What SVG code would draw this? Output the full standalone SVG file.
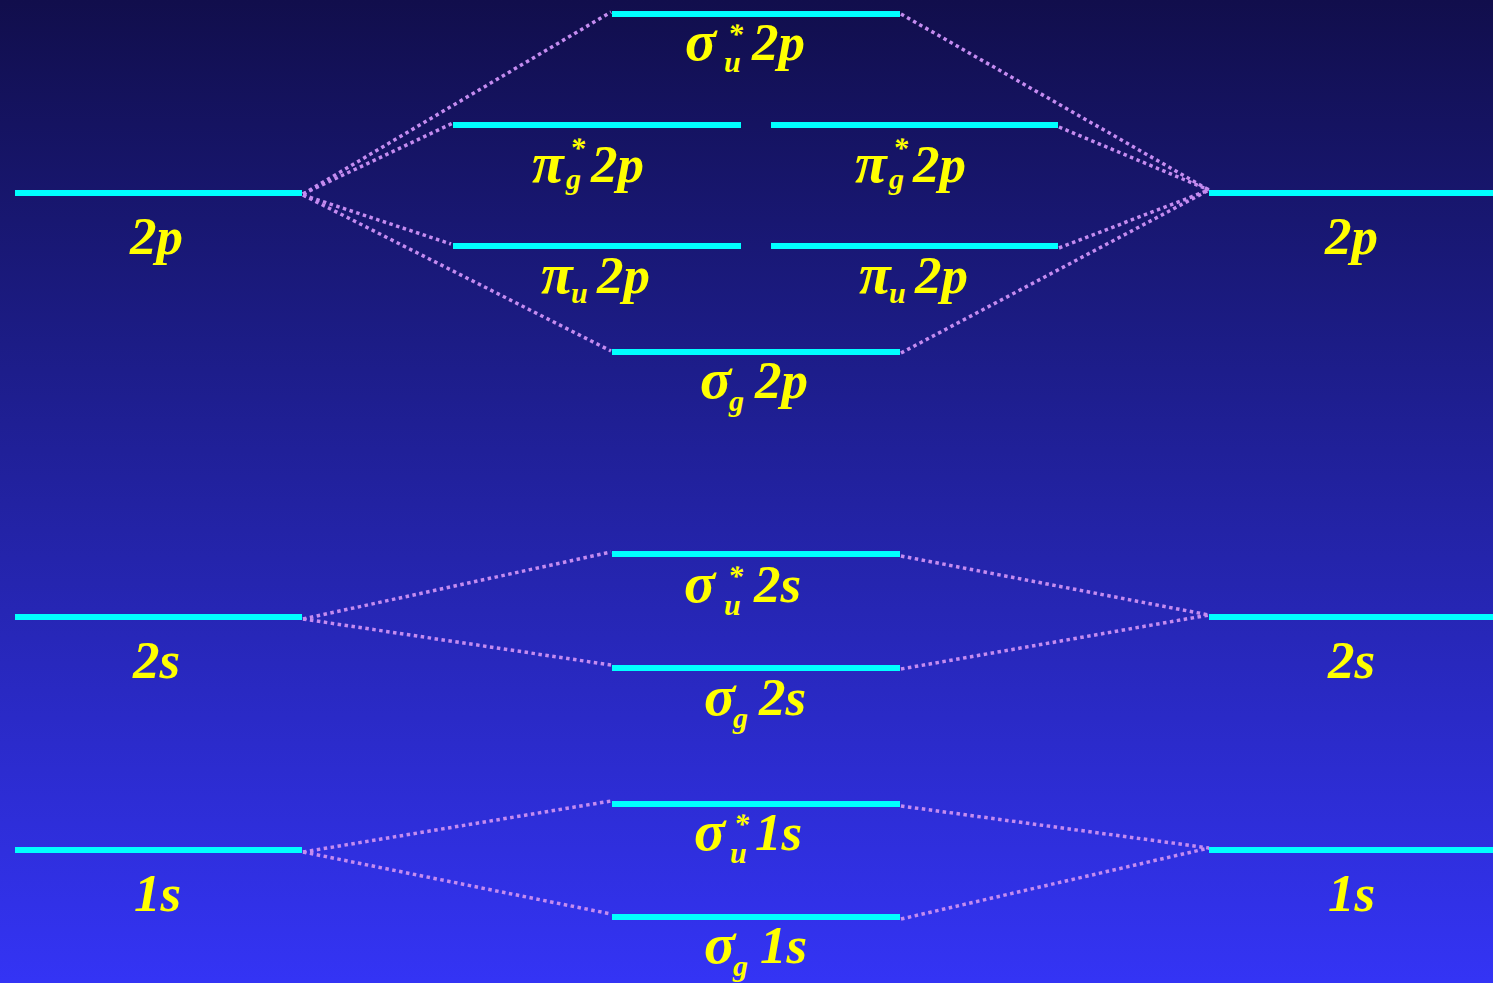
<svg xmlns="http://www.w3.org/2000/svg" width="1493" height="983" viewBox="0 0 1493 983">
<defs>
<linearGradient id="bg" x1="0" y1="0" x2="0" y2="1">
<stop offset="0" stop-color="#110E4C"/>
<stop offset="0.35" stop-color="#1C1C86"/>
<stop offset="1" stop-color="#3434F5"/>
</linearGradient>
<style>
.lvl{stroke:#00FFFF;stroke-width:6;fill:none}
.con{stroke:#C58CF0;stroke-width:3.5;stroke-dasharray:3.5 3.5;fill:none}
text{font-family:"Liberation Serif","Times New Roman",serif;font-weight:bold;font-style:italic;fill:#FFFF00}
.m{font-size:53px}
.g{font-size:58px}
.s{font-size:30px}
</style>
</defs>
<rect x="0" y="0" width="1493" height="983" fill="url(#bg)"/>
<g id="connectors">
<line class="con" x1="303" y1="194" x2="611" y2="12"/>
<line class="con" x1="303" y1="194" x2="453" y2="123"/>
<line class="con" x1="303" y1="195" x2="451" y2="244"/>
<line class="con" x1="303" y1="195" x2="611" y2="351"/>
<line class="con" x1="901" y1="14" x2="1209" y2="190"/>
<line class="con" x1="1059" y1="127" x2="1209" y2="190"/>
<line class="con" x1="1059" y1="248" x2="1209" y2="190"/>
<line class="con" x1="901" y1="353" x2="1209" y2="190"/>
<line class="con" x1="303" y1="619" x2="611" y2="552"/>
<line class="con" x1="303" y1="619" x2="611" y2="665"/>
<line class="con" x1="901" y1="556" x2="1209" y2="615"/>
<line class="con" x1="901" y1="669" x2="1209" y2="615"/>
<line class="con" x1="303" y1="852" x2="611" y2="801"/>
<line class="con" x1="303" y1="852" x2="611" y2="914"/>
<line class="con" x1="901" y1="806" x2="1209" y2="848"/>
<line class="con" x1="901" y1="919" x2="1209" y2="848"/>
</g>
<g id="L2p">
<line class="lvl" x1="15" y1="193" x2="302" y2="193"/>
<text class="m" x="130" y="254">2p</text>
</g>
<g id="R2p">
<line class="lvl" x1="1209" y1="193" x2="1493" y2="193"/>
<text class="m" x="1325" y="254">2p</text>
</g>
<g id="L2s">
<line class="lvl" x1="15" y1="617" x2="302" y2="617"/>
<text class="m" x="133" y="678">2s</text>
</g>
<g id="R2s">
<line class="lvl" x1="1209" y1="617" x2="1493" y2="617"/>
<text class="m" x="1328" y="678">2s</text>
</g>
<g id="L1s">
<line class="lvl" x1="15" y1="850" x2="302" y2="850"/>
<text class="m" x="134" y="911">1s</text>
</g>
<g id="R1s">
<line class="lvl" x1="1209" y1="850" x2="1493" y2="850"/>
<text class="m" x="1328" y="911">1s</text>
</g>
<g id="sigmaU2p">
<line class="lvl" x1="612" y1="14" x2="900" y2="14"/>
<text class="g" x="685" y="60">σ</text>
<text class="s" x="724" y="72">u</text>
<text class="s" x="728" y="44">*</text>
<text class="m" x="752" y="60">2p</text>
</g>
<g id="piG2pL">
<line class="lvl" x1="453" y1="125" x2="741" y2="125"/>
<text class="g" x="532" y="182">π</text>
<text class="s" x="566" y="189">g</text>
<text class="s" x="570" y="158">*</text>
<text class="m" x="591" y="182">2p</text>
</g>
<g id="piG2pR">
<line class="lvl" x1="771" y1="125" x2="1058" y2="125"/>
<text class="g" x="855" y="182">π</text>
<text class="s" x="889" y="189">g</text>
<text class="s" x="893" y="158">*</text>
<text class="m" x="913" y="182">2p</text>
</g>
<g id="piU2pL">
<line class="lvl" x1="453" y1="246" x2="741" y2="246"/>
<text class="g" x="541" y="293">π</text>
<text class="s" x="571" y="303">u</text>
<text class="m" x="597" y="293">2p</text>
</g>
<g id="piU2pR">
<line class="lvl" x1="771" y1="246" x2="1058" y2="246"/>
<text class="g" x="859" y="293">π</text>
<text class="s" x="889" y="303">u</text>
<text class="m" x="915" y="293">2p</text>
</g>
<g id="sigmaG2p">
<line class="lvl" x1="612" y1="352" x2="900" y2="352"/>
<text class="g" x="700" y="398">σ</text>
<text class="s" x="729" y="411">g</text>
<text class="m" x="755" y="398">2p</text>
</g>
<g id="sigmaU2s">
<line class="lvl" x1="612" y1="554" x2="900" y2="554"/>
<text class="g" x="684" y="602">σ</text>
<text class="s" x="724" y="615">u</text>
<text class="s" x="728" y="586">*</text>
<text class="m" x="754" y="602">2s</text>
</g>
<g id="sigmaG2s">
<line class="lvl" x1="612" y1="668" x2="900" y2="668"/>
<text class="g" x="704" y="715">σ</text>
<text class="s" x="733" y="728">g</text>
<text class="m" x="759" y="715">2s</text>
</g>
<g id="sigmaU1s">
<line class="lvl" x1="612" y1="804" x2="900" y2="804"/>
<text class="g" x="694" y="850">σ</text>
<text class="s" x="730" y="863">u</text>
<text class="s" x="734" y="834">*</text>
<text class="m" x="755" y="850">1s</text>
</g>
<g id="sigmaG1s">
<line class="lvl" x1="612" y1="917" x2="900" y2="917"/>
<text class="g" x="704" y="963">σ</text>
<text class="s" x="733" y="976">g</text>
<text class="m" x="760" y="963">1s</text>
</g>
</svg>
